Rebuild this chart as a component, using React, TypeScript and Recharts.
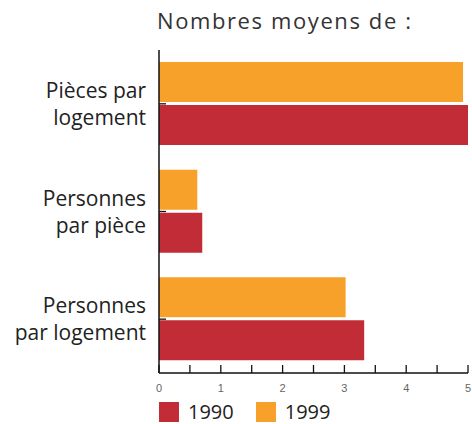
import { BarChart, Bar, XAxis, YAxis } from 'recharts';

const categories = [
  ['Pièces par', 'logement'],
  ['Personnes', 'par pièce'],
  ['Personnes', 'par logement'],
];
const values1999 = [4.92, 0.62, 3.02];
const values1990 = [5.0, 0.7, 3.32];
const xTicks = [0, 0.5, 1, 1.5, 2, 2.5, 3, 3.5, 4, 4.5, 5];

const RED = '#c12c37';
const ORANGE = '#f7a12a';
const FONT = '"Open Sans", "Noto Sans", sans-serif';

const legendItems = [
  { label: '1990', color: RED },
  { label: '1999', color: ORANGE },
];

const data = categories.map((lines, i) => ({
  name: lines.join(' '),
  y1999: values1999[i],
  y1990: values1990[i],
}));

function XTick({ x, y, payload }: any) {
  const v = payload.value;
  return (
    <g>
      <line x1={x} x2={x} y1={y} y2={y - 8} stroke="#111" strokeWidth={1.3} />
      {Number.isInteger(v) && (
        <text x={x} y={y + 19} textAnchor="middle" fontSize={11} fill="#666" fontFamily="Liberation Sans Narrow, sans-serif">
          {v}
        </text>
      )}
    </g>
  );
}

function YTick({ x, y, index }: any) {
  const lines = categories[index] || [];
  return (
    <g>
      <line x1={x} x2={x + 7} y1={y} y2={y} stroke="#111" strokeWidth={1.3} />
      <text x={x - 13} y={y - 6} textAnchor="end" fontSize={21} fill="#222" fontFamily={FONT}>
        {lines.map((l, k) => (
          <tspan key={k} x={x - 13} dy={k === 0 ? 0 : 27}>
            {l}
          </tspan>
        ))}
      </text>
    </g>
  );
}

export default function App() {
  return (
    <div style={{ position: 'absolute', left: 0, top: 0, width: 472, height: 424, background: '#fff', fontFamily: FONT }}>
      <div style={{ position: 'absolute', left: 157, top: 5, fontSize: 22, letterSpacing: 1.6, color: '#333', whiteSpace: 'nowrap' }}>
        Nombres moyens de :
      </div>
      <BarChart
        width={472}
        height={424}
        data={data}
        layout="vertical"
        margin={{ top: 50, right: 4, left: 0, bottom: 26 }}
        barGap={3}
      >
        <XAxis
          type="number"
          domain={[0, 5]}
          ticks={xTicks}
          interval={0}
          height={25}
          tickSize={0}
          tickMargin={0}
          tickLine={false}
          tick={<XTick />}
          axisLine={{ stroke: '#111', strokeWidth: 1.5 }}
        />
        <YAxis
          type="category"
          dataKey="name"
          width={159}
          tickSize={0}
          tickMargin={0}
          tickLine={false}
          tick={<YTick />}
          axisLine={{ stroke: '#111', strokeWidth: 1.5 }}
        />
        <Bar dataKey="y1999" fill={ORANGE} barSize={40} isAnimationActive={false} />
        <Bar dataKey="y1990" fill={RED} barSize={40} isAnimationActive={false} />
      </BarChart>
      <div style={{ position: 'absolute', left: 159, top: 398, display: 'flex', alignItems: 'center' }}>
        {legendItems.map((it) => (
          <div key={it.label} style={{ display: 'flex', alignItems: 'center', marginRight: 22 }}>
            <div style={{ width: 20, height: 20, background: it.color, marginRight: 9 }} />
            <span style={{ fontSize: 20, color: '#222' }}>{it.label}</span>
          </div>
        ))}
      </div>
    </div>
  );
}
